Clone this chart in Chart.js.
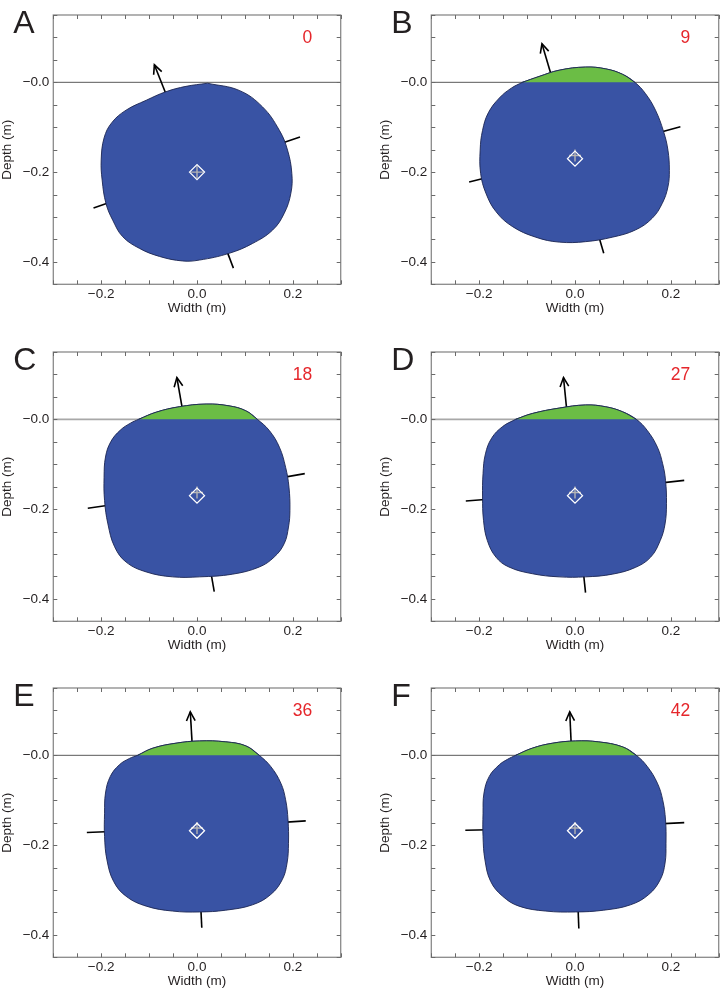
<!DOCTYPE html>
<html>
<head>
<meta charset="utf-8">
<script src="https://cdn.jsdelivr.net/npm/chart.js@4.4.0/dist/chart.umd.min.js"></script>
<style>
html, body { margin: 0; padding: 0; overflow: hidden; background: #fff; }
body { width: 720px; height: 991px; position: relative; }
canvas { position: absolute; }
</style>
</head>
<body>
<script>
// Panel labels and time stamps
const panelLetters = ['A', 'B', 'C', 'D', 'E', 'F'];
const panelTimes = ['0', '9', '18', '27', '36', '42'];

// Tick labels
const xTickValues = [-0.2, 0, 0.2];
const xTickLabels = ['\u22120.2', '0.0', '0.2'];
const yTickValues = [-0.4, -0.2, 0];
const yTickLabels = ['\u22120.4', '\u22120.2', '\u22120.0'];

// Emerged cap (part of outline above the waterline), left to right
const capX = [
  [],
  [-0.110, -0.075, -0.033, 0.022, 0.064, 0.099, 0.125],
  [-0.122, -0.085, -0.037, 0.019, 0.067, 0.102, 0.126],
  [-0.124, -0.089, -0.033, 0.022, 0.064, 0.099, 0.128],
  [-0.124, -0.092, -0.044, 0.005, 0.060, 0.102, 0.130],
  [-0.124, -0.089, -0.047, 0.001, 0.049, 0.099, 0.128]
];
const capY = [
  [],
  [0, 0.013, 0.027, 0.034, 0.030, 0.018, 0],
  [0, 0.016, 0.028, 0.034, 0.030, 0.019, 0],
  [0, 0.013, 0.025, 0.032, 0.028, 0.017, 0],
  [0, 0.016, 0.027, 0.032, 0.030, 0.021, 0],
  [0, 0.016, 0.027, 0.032, 0.030, 0.019, 0]
];

// Rest of the outline, clockwise
const bodyX = [
  [0.022, 0.088, 0.137, 0.172, 0.189, 0.198, 0.196, 0.182, 0.158, 0.116, 0.067, 0.005, -0.030, -0.078, -0.120, -0.155, -0.176, -0.190, -0.198, -0.200, -0.194, -0.178, -0.148, -0.106, -0.065, -0.023],
  [0.147, 0.168, 0.185, 0.194, 0.197, 0.194, 0.182, 0.161, 0.126, 0.078, 0.022, -0.033, -0.082, -0.131, -0.165, -0.186, -0.197, -0.198, -0.193, -0.181, -0.158, -0.133],
  [0.151, 0.172, 0.185, 0.192, 0.194, 0.191, 0.182, 0.161, 0.130, 0.074, 0.005, -0.051, -0.106, -0.148, -0.172, -0.186, -0.193, -0.194, -0.191, -0.180, -0.160, -0.138],
  [0.151, 0.172, 0.183, 0.189, 0.191, 0.188, 0.178, 0.158, 0.126, 0.078, 0.022, -0.033, -0.089, -0.138, -0.165, -0.183, -0.191, -0.193, -0.192, -0.187, -0.174, -0.151],
  [0.154, 0.175, 0.185, 0.190, 0.191, 0.188, 0.178, 0.154, 0.116, 0.060, 0.005, -0.051, -0.106, -0.148, -0.174, -0.188, -0.193, -0.193, -0.191, -0.181, -0.162, -0.141],
  [0.151, 0.172, 0.183, 0.189, 0.190, 0.188, 0.178, 0.154, 0.116, 0.060, 0.001, -0.061, -0.117, -0.151, -0.176, -0.188, -0.192, -0.192, -0.190, -0.179, -0.158, -0.141]
];
const bodyY = [
  [-0.002, -0.018, -0.055, -0.107, -0.151, -0.203, -0.247, -0.292, -0.329, -0.359, -0.381, -0.396, -0.398, -0.388, -0.370, -0.344, -0.307, -0.270, -0.218, -0.173, -0.124, -0.090, -0.062, -0.040, -0.021, -0.009],
  [-0.025, -0.062, -0.110, -0.151, -0.196, -0.233, -0.270, -0.303, -0.329, -0.345, -0.355, -0.356, -0.345, -0.321, -0.288, -0.247, -0.203, -0.151, -0.107, -0.068, -0.035, -0.013],
  [-0.025, -0.062, -0.107, -0.151, -0.203, -0.240, -0.277, -0.307, -0.329, -0.345, -0.351, -0.351, -0.340, -0.318, -0.284, -0.233, -0.181, -0.129, -0.084, -0.050, -0.024, -0.008],
  [-0.025, -0.062, -0.099, -0.136, -0.188, -0.233, -0.270, -0.307, -0.330, -0.345, -0.351, -0.351, -0.344, -0.329, -0.307, -0.270, -0.225, -0.173, -0.121, -0.077, -0.042, -0.016],
  [-0.025, -0.062, -0.099, -0.144, -0.196, -0.240, -0.277, -0.310, -0.333, -0.345, -0.349, -0.347, -0.336, -0.314, -0.281, -0.233, -0.181, -0.129, -0.084, -0.047, -0.021, -0.007],
  [-0.025, -0.062, -0.099, -0.144, -0.196, -0.240, -0.277, -0.310, -0.333, -0.345, -0.349, -0.347, -0.336, -0.314, -0.281, -0.233, -0.181, -0.129, -0.084, -0.047, -0.021, -0.009]
];

// Centre markers
const centerX = [0, 0, 0, 0, 0, 0];
const centerY = [-0.200, -0.170, -0.170, -0.170, -0.168, -0.168];
const crossY = [-0.200, -0.163, -0.163, -0.163, -0.162, -0.162];

// Principal axes end points: [arrow tip, right, bottom, left]
const axisEndX = [
  [-0.089, 0.215, 0.076, -0.216],
  [-0.069, 0.220, 0.060, -0.221],
  [-0.042, 0.225, 0.036, -0.228],
  [-0.024, 0.228, 0.022, -0.228],
  [-0.014, 0.227, 0.010, -0.230],
  [-0.011, 0.228, 0.008, -0.229]
];
const axisEndY = [
  [0.039, -0.122, -0.414, -0.280],
  [0.086, -0.099, -0.381, -0.222],
  [0.093, -0.121, -0.384, -0.198],
  [0.093, -0.136, -0.386, -0.182],
  [0.097, -0.146, -0.384, -0.172],
  [0.097, -0.150, -0.386, -0.167]
];

const BLUE = '#3953a4';
const GREEN = '#6bbd45';
const OUTLINE = '#1c2652';
const FONT = "'Liberation Sans', Arial, sans-serif";

Chart.defaults.font.family = FONT;

function tickLabel(v, values, labels) {
  const i = values.findIndex(t => Math.abs(t - v) < 1e-6);
  return i < 0 ? '' : labels[i];
}

const panelDecor = {
  id: 'panelDecor',
  beforeDatasetsDraw(chart, args, opts) {
    const { ctx, chartArea: a, scales: { y } } = chart;
    const y0 = y.getPixelForValue(0);
    ctx.save();
    ctx.strokeStyle = opts.zeroColor;
    ctx.lineWidth = opts.zeroWidth;
    ctx.beginPath();
    ctx.moveTo(a.left, y0);
    ctx.lineTo(a.right, y0);
    ctx.stroke();
    ctx.restore();
  },
  afterDatasetsDraw(chart) {
    // open arrow head at the tip of the first axis
    const pts = chart.getDatasetMeta(0).data;
    const p0 = pts[0], p1 = pts[pts.length - 1];
    const ang = Math.atan2(p1.y - p0.y, p1.x - p0.x);
    const ctx = chart.ctx;
    const len = 10, spread = 0.45;
    ctx.save();
    ctx.strokeStyle = '#000';
    ctx.lineWidth = 1.6;
    ctx.beginPath();
    ctx.moveTo(p1.x - len * Math.cos(ang - spread), p1.y - len * Math.sin(ang - spread));
    ctx.lineTo(p1.x, p1.y);
    ctx.lineTo(p1.x - len * Math.cos(ang + spread), p1.y - len * Math.sin(ang + spread));
    ctx.stroke();
    ctx.restore();
  },
  afterDraw(chart, args, opts) {
    const { ctx, chartArea: a, scales: { x, y } } = chart;
    ctx.save();
    // frame
    ctx.strokeStyle = '#8a8a8a';
    ctx.lineWidth = 1.3;
    ctx.strokeRect(a.left, a.top, a.right - a.left, a.bottom - a.top);
    // inward tick marks on all four sides
    ctx.strokeStyle = '#6a6a6a';
    ctx.lineWidth = 1;
    ctx.beginPath();
    x.ticks.forEach(t => {
      const px = Math.round(x.getPixelForValue(t.value)) + 0.5;
      ctx.moveTo(px, a.bottom); ctx.lineTo(px, a.bottom - 4);
      ctx.moveTo(px, a.top); ctx.lineTo(px, a.top + 4);
    });
    y.ticks.forEach(t => {
      const py = Math.round(y.getPixelForValue(t.value)) + 0.5;
      ctx.moveTo(a.left, py); ctx.lineTo(a.left + 4, py);
      ctx.moveTo(a.right, py); ctx.lineTo(a.right - 4, py);
    });
    ctx.stroke();
    // panel letter
    ctx.fillStyle = '#231f20';
    ctx.font = '32px ' + FONT;
    ctx.textAlign = 'left';
    ctx.textBaseline = 'alphabetic';
    ctx.fillText(opts.letter, a.left - 40, a.top + 17.5);
    // time stamp
    ctx.fillStyle = '#e5262b';
    ctx.font = '17.5px ' + FONT;
    ctx.textAlign = 'right';
    ctx.fillText(opts.time, a.right - 28.5, a.top + 28);
    ctx.restore();
  }
};

function buildDatasets(i) {
  const ds = [];
  axisEndX[i].forEach((ex, k) => {
    ds.push({
      data: [{ x: centerX[i], y: crossY[i] }, { x: ex, y: axisEndY[i][k] }],
      showLine: true, borderColor: '#000', borderWidth: 1.6,
      pointRadius: 0, fill: false, tension: 0, order: 10 + k
    });
  });
  const cap = capX[i].map((x, j) => ({ x, y: capY[i][j] }));
  const body = bodyX[i].map((x, j) => ({ x, y: bodyY[i][j] }));
  const outline = cap.concat(body);
  outline.push(outline[0]);
  ds.push({
    data: outline, showLine: true, borderColor: OUTLINE, borderWidth: 0.9,
    backgroundColor: BLUE, fill: 'shape', pointRadius: 0, tension: 0.4, order: 5
  });
  if (cap.length) {
    ds.push({
      data: cap, showLine: true, borderColor: OUTLINE, borderWidth: 0.9,
      backgroundColor: GREEN, fill: { value: 0 }, pointRadius: 0, tension: 0.4, order: 4
    });
  }
  ds.push({
    data: [{ x: centerX[i], y: crossY[i] }], pointStyle: 'cross', pointRadius: 6,
    pointBorderColor: '#b4b4b4', pointBorderWidth: 1.4, showLine: false, order: 2
  });
  ds.push({
    data: [{ x: centerX[i], y: centerY[i] }], pointStyle: 'rectRot', pointRadius: 7.5,
    pointBackgroundColor: 'rgba(0,0,0,0)', pointBorderColor: '#ffffff',
    pointBorderWidth: 1.3, showLine: false, order: 1
  });
  return ds;
}

const colLeft = [0, 378];
const rowTop = [0, 337, 673];
const wideZero = [false, false, true, true, false, false];

panelLetters.forEach((letter, i) => {
  const canvas = document.createElement('canvas');
  canvas.width = 360;
  canvas.height = 337;
  canvas.style.left = colLeft[i % 2] + 'px';
  canvas.style.top = rowTop[Math.floor(i / 2)] + 'px';
  canvas.style.width = '360px';
  canvas.style.height = '337px';
  document.body.appendChild(canvas);

  new Chart(canvas, {
    type: 'scatter',
    data: { datasets: buildDatasets(i) },
    options: {
      responsive: false,
      animation: false,
      devicePixelRatio: 1,
      layout: { padding: { left: 0, right: 19.3, top: 15, bottom: 22 } },
      plugins: {
        legend: { display: false },
        tooltip: { enabled: false },
        panelDecor: {
          letter: letter,
          time: panelTimes[i],
          zeroColor: wideZero[i] ? '#a8a8a8' : '#5a5a5a',
          zeroWidth: wideZero[i] ? 1.8 : 1
        }
      },
      scales: {
        x: {
          type: 'linear', min: -0.3, max: 0.3,
          ticks: {
            stepSize: 0.05, autoSkip: false, maxRotation: 0, padding: 2,
            color: '#231f20', font: { size: 13.5 },
            callback: v => tickLabel(v, xTickValues, xTickLabels)
          },
          grid: { drawOnChartArea: false, drawTicks: false },
          border: { display: false },
          title: {
            display: true, text: 'Width (m)', color: '#231f20',
            font: { size: 13.5, lineHeight: 1 }, padding: 0
          },
          afterFit: s => { s.height = 30.7; }
        },
        y: {
          type: 'linear', min: -0.45, max: 0.15,
          ticks: {
            stepSize: 0.05, autoSkip: false, padding: 4,
            color: '#231f20', font: { size: 13.5 },
            callback: v => tickLabel(v, yTickValues, yTickLabels)
          },
          grid: { drawOnChartArea: false, drawTicks: false },
          border: { display: false },
          title: {
            display: true, text: 'Depth (m)', color: '#231f20',
            font: { size: 13.5, lineHeight: 1 }, padding: { top: 0.5, bottom: 0 }
          },
          afterFit: s => { s.width = 53.3; }
        }
      }
    },
    plugins: [panelDecor]
  });
});
</script>
</body>
</html>
